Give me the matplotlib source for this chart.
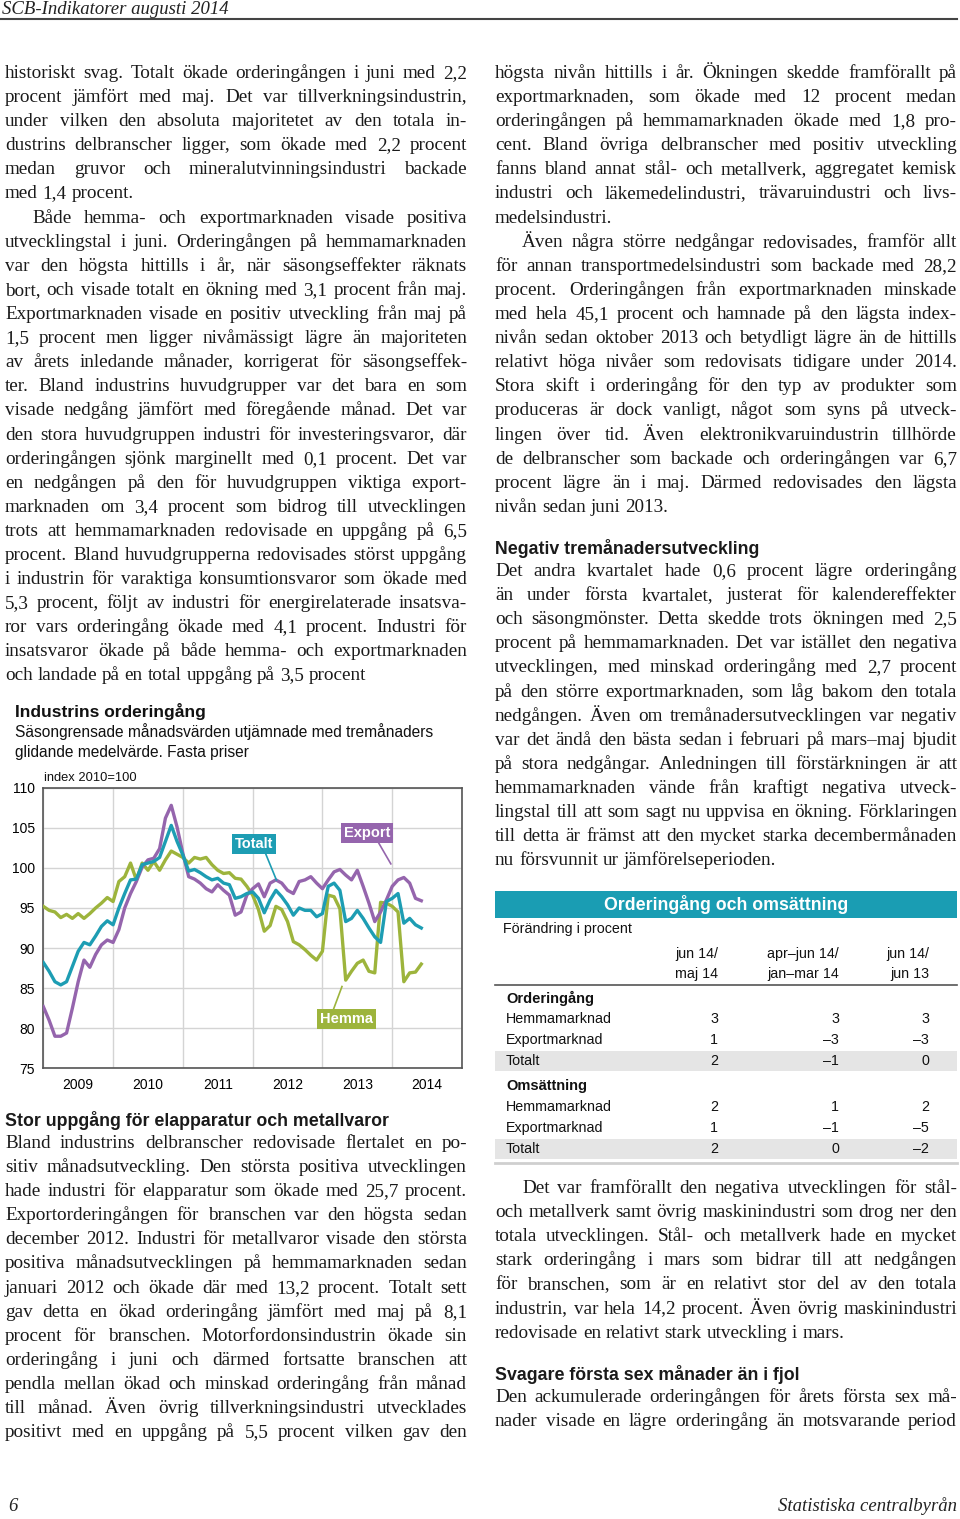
import numpy as np
import matplotlib
matplotlib.use("Agg")
import matplotlib.pyplot as plt
from matplotlib.patches import Rectangle

W, H = 960, 1519
SERIF = "Liberation Serif"
SANS = "Liberation Sans"

# --- chart data: monthly index values, jan 2009 - jun 2014 ---
years = [2009, 2010, 2011, 2012, 2013, 2014]
totalt = [88.2, 87.1, 85.8, 85.4, 85.8, 87.7, 89.6, 90.7, 90.4, 91.5, 92.7, 93.4,
          92.9, 95.0, 96.8, 98.5, 98.6, 100.4, 100.6, 100.8, 101.3, 103.3, 105.3, 103.3,
          101.6, 99.6, 99.8, 99.4, 98.9, 98.5, 98.7, 98.1, 97.9, 96.2, 96.4, 96.8,
          97.0, 96.2, 94.4, 96.0, 97.2, 96.4, 95.4, 94.1, 95.0, 94.7, 94.7, 93.9,
          94.3, 97.7, 98.1, 97.2, 93.3, 93.7, 94.7, 93.7, 92.5, 91.4, 90.7, 95.8,
          96.2, 96.8, 93.1, 93.7, 92.9, 92.5]
export = [82.7, 81.0, 79.0, 79.0, 79.4, 82.5, 85.8, 88.5, 87.6, 89.2, 90.4, 91.0,
          90.7, 92.3, 95.0, 96.8, 98.3, 100.1, 101.0, 101.2, 102.4, 106.2, 107.8, 105.1,
          101.8, 98.9, 98.6, 98.1, 97.4, 97.0, 97.9, 97.2, 96.6, 94.1, 94.5, 96.6,
          97.4, 98.0, 96.4, 98.1, 98.5, 98.1, 97.2, 96.8, 98.3, 98.5, 98.9, 98.1,
          97.4, 98.5, 99.5, 99.8, 99.1, 98.5, 99.7, 97.7, 95.6, 93.3, 94.5, 96.0,
          97.7, 98.5, 98.8, 98.1, 96.2, 95.9]
hemma = [95.2, 94.7, 94.5, 93.8, 94.2, 93.7, 94.3, 93.7, 94.3, 95.0, 95.6, 96.3,
         95.8, 98.3, 98.9, 100.6, 98.5, 100.6, 99.7, 100.8, 99.7, 101.0, 102.1, 101.7,
         101.3, 100.6, 101.3, 101.1, 101.3, 100.4, 99.7, 99.3, 99.4, 98.7, 98.6, 97.7,
         96.6, 94.8, 92.1, 92.8, 95.2, 94.8, 93.3, 90.8, 90.4, 89.8, 89.1, 88.5,
         89.6, 96.6, 96.4, 94.9, 86.0, 87.1, 88.1, 88.5, 87.1, 86.9, 95.7, 95.6,
         95.2, 94.5, 85.8, 86.9, 87.0, 88.0]
yticks = [75, 80, 85, 90, 95, 100, 105, 110]

# --- table data ---
tab_cols = [["jun 14/", "maj 14"], ["apr\u2013jun 14/", "jan\u2013mar 14"], ["jun 14/", "jun 13"]]
tab_rows = ["Hemmamarknad", "Exportmarknad", "Totalt"]
order_vals = [[3, 3, 3], [1, -3, -3], [2, -1, 0]]
oms_vals = [[2, 1, 2], [1, -1, -5], [2, 0, -2]]

# --- body text (one string per printed line) ---
left_top = [
    "historiskt svag. Totalt ökade orderingången i juni med 2,2",
    "procent jämfört med maj. Det var tillverkningsindustrin,",
    "under vilken den absoluta majoritetet av den totala in-",
    "dustrins delbranscher ligger, som ökade med 2,2 procent",
    "medan gruvor och mineralutvinningsindustri backade",
    "med 1,4 procent.",
    "Både hemma- och exportmarknaden visade positiva",
    "utvecklingstal i juni. Orderingången på hemmamarknaden",
    "var den högsta hittills i år, när säsongseffekter räknats",
    "bort, och visade totalt en ökning med 3,1 procent från maj.",
    "Exportmarknaden visade en positiv utveckling från maj på",
    "1,5 procent men ligger nivåmässigt lägre än majoriteten",
    "av årets inledande månader, korrigerat för säsongseffek-",
    "ter. Bland industrins huvudgrupper var det bara en som",
    "visade nedgång jämfört med föregående månad. Det var",
    "den stora huvudgruppen industri för investeringsvaror, där",
    "orderingången sjönk marginellt med 0,1 procent. Det var",
    "en nedgången på den för huvudgruppen viktiga export-",
    "marknaden om 3,4 procent som bidrog till utvecklingen",
    "trots att hemmamarknaden redovisade en uppgång på 6,5",
    "procent. Bland huvudgrupperna redovisades störst uppgång",
    "i industrin för varaktiga konsumtionsvaror som ökade med",
    "5,3 procent, följt av industri för energirelaterade insatsva-",
    "ror vars orderingång ökade med 4,1 procent. Industri för",
    "insatsvaror ökade på både hemma- och exportmarknaden",
    "och landade på en total uppgång på 3,5 procent",
]
left_bottom = [
    "Bland industrins delbranscher redovisade flertalet en po-",
    "sitiv månadsutveckling. Den största positiva utvecklingen",
    "hade industri för elapparatur som ökade med 25,7 procent.",
    "Exportorderingången för branschen var den högsta sedan",
    "december 2012. Industri för metallvaror visade den största",
    "positiva månadsutvecklingen på hemmamarknaden sedan",
    "januari 2012 och ökade där med 13,2 procent. Totalt sett",
    "gav detta en ökad orderingång jämfört med maj på 8,1",
    "procent för branschen. Motorfordonsindustrin ökade sin",
    "orderingång i juni och därmed fortsatte branschen att",
    "pendla mellan ökad och minskad orderingång från månad",
    "till månad. Även övrig tillverkningsindustri utvecklades",
    "positivt med en uppgång på 5,5 procent vilken gav den",
]
right_top = [
    "högsta nivån hittills i år. Ökningen skedde framförallt på",
    "exportmarknaden, som ökade med 12 procent medan",
    "orderingången på hemmamarknaden ökade med 1,8 pro-",
    "cent. Bland övriga delbranscher med positiv utveckling",
    "fanns bland annat stål- och metallverk, aggregatet kemisk",
    "industri och läkemedelindustri, trävaruindustri och livs-",
    "medelsindustri.",
    "Även några större nedgångar redovisades, framför allt",
    "för annan transportmedelsindustri som backade med 28,2",
    "procent. Orderingången från exportmarknaden minskade",
    "med hela 45,1 procent och hamnade på den lägsta index-",
    "nivån sedan oktober 2013 och betydligt lägre än de hittills",
    "relativt höga nivåer som redovisats tidigare under 2014.",
    "Stora skift i orderingång för den typ av produkter som",
    "produceras är dock vanligt, något som syns på utveck-",
    "lingen över tid. Även elektronikvaruindustrin tillhörde",
    "de delbranscher som backade och orderingången var 6,7",
    "procent lägre än i maj. Därmed redovisades den lägsta",
    "nivån sedan juni 2013.",
]
right_mid = [
    "Det andra kvartalet hade 0,6 procent lägre orderingång",
    "än under första kvartalet, justerat för kalendereffekter",
    "och säsongmönster. Detta skedde trots ökningen med 2,5",
    "procent på hemmamarknaden. Det var istället den negativa",
    "utvecklingen, med minskad orderingång med 2,7 procent",
    "på den större exportmarknaden, som låg bakom den totala",
    "nedgången. Även om tremånadersutvecklingen var negativ",
    "var det ändå den bästa sedan i februari på mars\u2013maj bjudit",
    "på stora nedgångar. Anledningen till förstärkningen är att",
    "hemmamarknaden vände från kraftigt negativa utveck-",
    "lingstal till att som sagt nu uppvisa en ökning. Förklaringen",
    "till detta är främst att den mycket starka decembermånaden",
    "nu försvunnit ur jämförelseperioden.",
]
right_low = [
    "Det var framförallt den negativa utvecklingen för stål-",
    "och metallverk samt övrig maskinindustri som drog ner den",
    "totala utvecklingen. Stål- och metallverk hade en mycket",
    "stark orderingång i mars som bidrar till att nedgången",
    "för branschen, som är en relativt stor del av den totala",
    "industrin, var hela 14,2 procent. Även övrig maskinindustri",
    "redovisade en relativt stark utveckling i mars.",
]
right_end = [
    "Den ackumulerade orderingången för årets första sex må-",
    "nader visade en lägre orderingång än motsvarande period",
]

fig = plt.figure(figsize=(W / 100, H / 100), dpi=100)
rend = fig.canvas.get_renderer()
LH = 24.1


def fx(x):
    return x / W


def fy(y):
    return 1 - y / H


def put(x, y, s, **kw):
    return fig.text(fx(x), fy(y), s, **kw)


def natural(line, fs):
    t = fig.text(0, 0, line, fontsize=fs, family=SERIF)
    w = t.get_window_extent(rend).width
    t.remove()
    return w


# pick the body size so that the longest full line just fits the column
all_lines = left_top + left_bottom + right_top + right_mid + right_low + right_end
widest = max(natural(l, 10) for l in all_lines)
FS = min(14.2, 10 * 458 / widest)


def para(x0, yb, width, lines, ends=(), indents=()):
    # justified body text, like the printed columns
    space = FS * 100 / 72 * 0.25
    for k, line in enumerate(lines):
        ind = 27 if k in indents else 0
        words = line.split(" ")
        arts = [fig.text(0, 0, w, fontsize=FS, family=SERIF, va="baseline", color="#1a1a1a")
                for w in words]
        ws = [a.get_window_extent(rend).width for a in arts]
        if k in ends or len(words) == 1:
            gap = space
        else:
            gap = (width - ind - sum(ws)) / (len(words) - 1)
        x = x0 + ind
        for a, w in zip(arts, ws):
            a.set_position((fx(x), fy(yb + k * LH)))
            x += w + gap


# header / footer
put(2, 14, "SCB-Indikatorer augusti 2014", fontsize=13.5, family=SERIF, style="italic",
    va="baseline", color="#222")
fig.add_artist(plt.Line2D([0, fx(957)], [fy(19), fy(19)], color="#444", lw=1.5))
put(8, 1511, "6", fontsize=13.5, family=SERIF, style="italic", va="baseline", color="#222")
put(957, 1511, "Statistiska centralbyrån", fontsize=13.5, family=SERIF, style="italic",
    va="baseline", ha="right", color="#222")

# text columns
para(5, 78, 462, left_top, ends=(5, 25), indents=(6,))
put(5, 1126, "Stor uppgång för elapparatur och metallvaror", fontsize=12.8, family=SANS,
    weight="bold", va="baseline", color="#1a1a1a")
para(5, 1148, 462, left_bottom)
para(495, 78, 462, right_top, ends=(6, 18), indents=(7,))
put(495, 554, "Negativ tremånadersutveckling", fontsize=12.8, family=SANS,
    weight="bold", va="baseline", color="#1a1a1a")
para(495, 576, 462, right_mid, ends=(12,))
para(495, 1193, 462, right_low, ends=(6,), indents=(0,))
put(495, 1380, "Svagare första sex månader än i fjol", fontsize=12.8, family=SANS,
    weight="bold", va="baseline", color="#1a1a1a")
para(495, 1402, 462, right_end)

# --- chart ---
teal, purple, green = "#1d9db3", "#9565ad", "#9db43c"
put(15, 711, "Industrins orderingång", fontsize=12.5, family=SANS, weight="bold",
    va="center", color="#111")
put(15, 732, "Säsongrensade månadsvärden utjämnade med tremånaders", fontsize=11.2,
    family=SANS, va="center", color="#111")
put(15, 753, "glidande medelvärde. Fasta priser", fontsize=11.2, family=SANS,
    va="center", color="#111")
put(44, 778, "index 2010=100", fontsize=9.3, family=SANS, va="center", color="#111")

ax = fig.add_axes([fx(43.3), fy(1068.3), (462 - 43.3) / W, (1068.3 - 787.7) / H])
t = 2009 + np.arange(len(totalt)) / 12
ax.plot(t, hemma, color=green, lw=2.4, solid_joinstyle="round", zorder=3)
ax.plot(t, export, color=purple, lw=2.4, solid_joinstyle="round", zorder=4)
ax.plot(t, totalt, color=teal, lw=2.4, solid_joinstyle="round", zorder=5)
ax.set_xlim(2009, 2015)
ax.set_ylim(75, 110)
ax.set_yticks(yticks)
ax.set_xticks(years + [2015])
ax.set_xticklabels([])
ax.set_xticks([y + 0.5 for y in years], minor=True)
ax.set_xticklabels([str(y) for y in years], minor=True)
ax.tick_params(which="both", length=0, labelsize=10, pad=7)
ax.tick_params(axis="y", pad=6)
for lab in ax.get_xticklabels(minor=True) + ax.get_yticklabels():
    lab.set_family(SANS)
ax.grid(True, which="major", color="#d4d4d4", lw=1)
for s in ax.spines.values():
    s.set_color("#555")
    s.set_linewidth(1.2)

box = dict(boxstyle="square,pad=0.2", lw=0)
ax.plot([2012.18, 2012.34], [101.9, 98.5], color=teal, lw=1.2, zorder=6)
ax.text(2012.02, 103.0, "Totalt", color="white", fontsize=10.5, weight="bold", family=SANS,
        ha="center", va="center", bbox=dict(box, fc=teal), zorder=7)
ax.plot([2013.8, 2013.98], [103.2, 100.5], color=purple, lw=1.2, zorder=6)
ax.text(2013.64, 104.3, "Export", color="white", fontsize=10.5, weight="bold", family=SANS,
        ha="center", va="center", bbox=dict(box, fc=purple), zorder=7)
ax.plot([2013.16, 2013.28], [82.4, 85.2], color=green, lw=1.2, zorder=6)
ax.text(2013.35, 81.2, "Hemma", color="white", fontsize=10.5, weight="bold", family=SANS,
        ha="center", va="center", bbox=dict(box, fc=green), zorder=7)

# --- table ---
tab_teal = "#1a9db3"
fig.add_artist(Rectangle((fx(495), fy(918)), 462 / W, 27 / H, color=tab_teal, lw=0))
put(726, 904.5, "Orderingång och omsättning", fontsize=12.8, family=SANS, weight="bold",
    color="white", ha="center", va="center")
put(503, 929, "Förändring i procent", fontsize=10.3, family=SANS, va="center", color="#111")
col_x = [718, 839, 929]
for cx, lab in zip(col_x, tab_cols):
    put(cx, 954, lab[0], fontsize=10.3, family=SANS, ha="right", va="center", color="#111")
    put(cx, 974, lab[1], fontsize=10.3, family=SANS, ha="right", va="center", color="#111")
fig.add_artist(plt.Line2D([fx(495), fx(957)], [fy(985), fy(985)], color="#555", lw=1.2))
fig.add_artist(plt.Line2D([fx(495), fx(957)], [fy(1163), fy(1163)], color="#cfcfcf", lw=2))


def fmt(v):
    return str(v).replace("-", "\u2013")


for top, title, vals in [(998, "Orderingång", order_vals), (1086, "Omsättning", oms_vals)]:
    put(506, top, title, fontsize=10.5, family=SANS, weight="bold", va="center", color="#111")
    for r, (lab, row) in enumerate(zip(tab_rows, vals)):
        yy = top + 21 * (r + 1)
        if lab == "Totalt":
            fig.add_artist(Rectangle((fx(495), fy(yy + 10)), 462 / W, 20 / H,
                                     color="#e5e5e5", lw=0, zorder=0))
        put(506, yy, lab, fontsize=10.3, family=SANS, va="center", color="#111")
        for cx, v in zip(col_x, row):
            put(cx, yy, fmt(v), fontsize=10.3, family=SANS, ha="right", va="center",
                color="#111")

fig.savefig("out.png", dpi=100, facecolor="white")
